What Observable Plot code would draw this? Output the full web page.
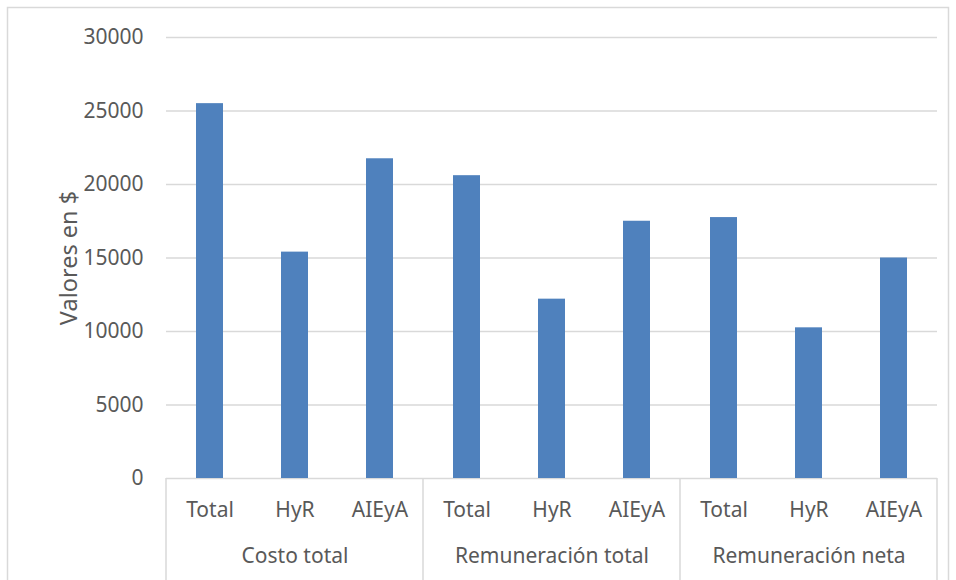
<!DOCTYPE html>
<html>
<head>
<meta charset="utf-8">
<script src="https://cdn.jsdelivr.net/npm/d3@7"></script>
<script src="https://cdn.jsdelivr.net/npm/@observablehq/plot@0.6"></script>
<style>
  html, body { margin: 0; padding: 0; background: #fff; }
  #chart svg { display: block; font-family: "Noto Sans", sans-serif; }
</style>
</head>
<body>
<div id="chart"></div>
<script>
// Grupos de indicadores y sus desagregaciones
const groups = ["Costo total", "Remuneración total", "Remuneración neta"];
const subs = ["Total", "HyR", "AIEyA"];

// Valores en $ por grupo (Total, HyR, AIEyA)
const costoTotal = [25500, 15400, 21750];
const remuneracionTotal = [20600, 12200, 17500];
const remuneracionNeta = [17750, 10250, 15000];

const yTicks = [0, 5000, 10000, 15000, 20000, 25000, 30000];

const seriesByGroup = [costoTotal, remuneracionTotal, remuneracionNeta];
const data = groups.flatMap((g, i) =>
  subs.map((s, j) => ({group: g, sub: s, value: seriesByGroup[i][j]}))
);

const W = 956, H = 580;
const textColor = "#595959";
const lineColor = "#d9d9d9";

const plot = Plot.plot({
  width: W,
  height: H,
  marginLeft: 165,
  marginRight: 18,
  marginTop: 37,
  marginBottom: 102,
  style: {fontSize: "21px", color: textColor, background: "#fff"},
  fx: {domain: groups, padding: 0},
  x: {domain: subs, paddingInner: 0.68, paddingOuter: 0.34},
  y: {domain: [0, 30000]},
  marks: [
    Plot.gridY(yTicks, {stroke: lineColor, strokeOpacity: 1, strokeWidth: 1.5}),
    Plot.barY(data, {fx: "group", x: "sub", y: "value", fill: "#4f81bd"}),
    Plot.axisY(yTicks, {
      tickSize: 0, tickPadding: 23, fill: textColor,
      tickFormat: d => String(d), label: null
    }),
    Plot.axisY([], {
      tickSize: 0, fill: textColor, fontSize: 23.5,
      label: "Valores en $", labelAnchor: "center", labelArrow: "none", labelOffset: 106
    }),
    Plot.axisX({tickSize: 0, tickPadding: 24, label: null, fill: textColor}),
    Plot.axisFx({anchor: "bottom", tickSize: 0, tickPadding: 70, label: null, fill: textColor})
  ]
});

document.getElementById("chart").appendChild(plot);

// Separadores de grupo bajo el eje y marco exterior
const svg = d3.select(plot);
const fx = plot.scale("fx");
const y0 = plot.scale("y").apply(0);
const edges = groups.map(g => fx.apply(g)).concat([fx.apply(groups[groups.length - 1]) + fx.bandwidth]);

svg.append("g")
  .attr("stroke", lineColor)
  .attr("stroke-width", 1.5)
  .selectAll("line")
  .data(edges)
  .join("line")
  .attr("x1", d => d).attr("x2", d => d)
  .attr("y1", y0).attr("y2", H);

svg.append("rect")
  .attr("x", 7.5).attr("y", 7.5)
  .attr("width", W - 15).attr("height", H)
  .attr("fill", "none")
  .attr("stroke", lineColor)
  .attr("stroke-width", 1.5);
</script>
</body>
</html>
